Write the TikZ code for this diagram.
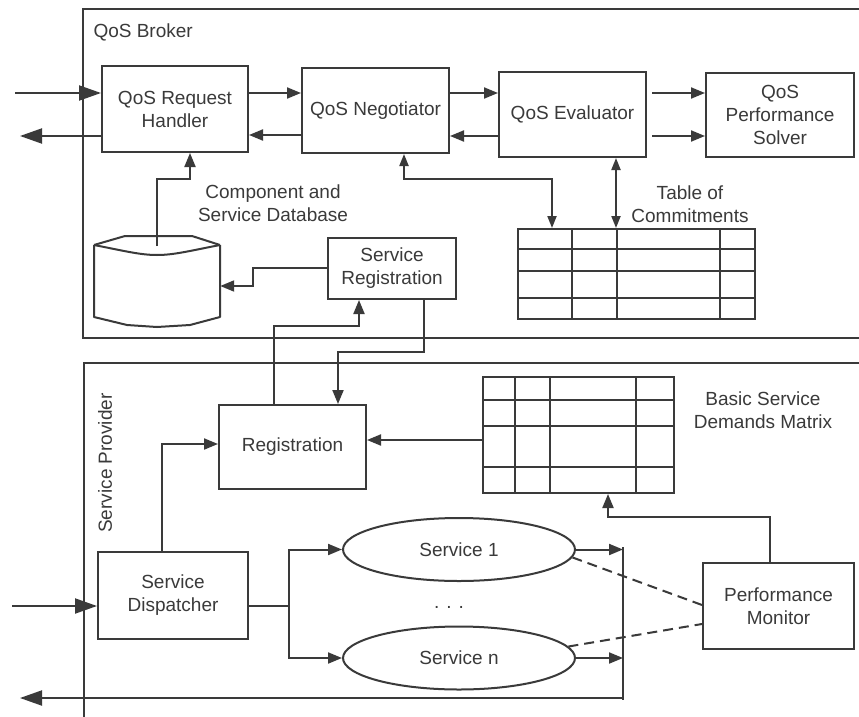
\documentclass[tikz,border=0pt]{standalone}
\usepackage{fontspec}
\setmainfont{Liberation Sans}
\usetikzlibrary{arrows.meta,shapes.geometric}
\definecolor{ink}{HTML}{3A3A3A}
\begin{document}
\begin{tikzpicture}[x=1pt,y=-1pt,
  every node/.style={font=\fontsize{19}{23}\selectfont, text=ink},
  box/.style={draw=ink, line width=2pt, rectangle, align=center, inner sep=0pt},
  svc/.style={draw=ink, line width=2pt, ellipse, minimum width=232pt,
              minimum height=63pt, inner sep=0pt},
  wire/.style={draw=ink, line width=2pt},
  arr/.style={wire, -{Triangle[length=14pt,width=11pt]}},
  bigarr/.style={wire, -{Triangle[length=22pt,width=15pt]}},
  dbl/.style={wire, {Triangle[length=12pt,width=9pt]}-{Triangle[length=12pt,width=9pt]}},
  dashline/.style={wire, dash pattern=on 10pt off 6pt},
  grid/.style={draw=ink, line width=2pt}
]
\useasboundingbox (0,0) rectangle (859,717);
\fill[white] (0,0) rectangle (859,717);

% ---------- QoS Broker ----------
\draw[wire] (859,9) -| (83,338) -- (859,338);
\node[anchor=west] (brokerlbl) at (90,32) {QoS Broker};

\node[box, minimum width=146pt, minimum height=86pt] (handler) at (175,109) {QoS Request\\Handler};
\node[box, minimum width=147pt, minimum height=85pt] (negotiator) at (375.5,110.5) {QoS Negotiator};
\node[box, minimum width=147pt, minimum height=85pt] (evaluator) at (572.5,114.5) {QoS Evaluator};
\node[box, minimum width=148pt, minimum height=84pt] (solver) at (780,115) {QoS\\Performance\\Solver};
\node[box, minimum width=128pt, minimum height=61pt] (sr) at (392,268.5) {Service\\Registration};

% component and service database (cylinder)
\node[minimum width=126pt, minimum height=91pt, inner sep=0pt] (db) at (157,281) {};
\draw[wire, line join=round] (94,245) -- (125,236) -- (192,236) -- (220,245);
\draw[wire] (94,245) .. controls (125,251) and (140,255) .. (157,255)
            .. controls (174,255) and (189,251) .. (220,245);
\draw[wire, line join=round] (94,245) -- (94,317) -- (127,325) -- (157,327)
            -- (190,325) -- (220,317) -- (220,245);
\node[align=center] (dblbl) at (273,203) {Component and\\Service Database};

% table of commitments
\node[box, minimum width=237pt, minimum height=90pt] (toc) at (636.5,274) {};
\draw[grid] (518,249) -- (755,249) (518,271) -- (755,271) (518,298) -- (755,298);
\draw[grid] (572,229) -- (572,319) (617,229) -- (617,319) (720,229) -- (720,319);
\node[align=center] (toclbl) at (690,204) {Table of\\Commitments};

% broker connectors
\coordinate (inQ) at (15,93);
\coordinate (outQ) at (20,136);
\draw[bigarr] (inQ) -- (inQ -| handler.west);
\draw[bigarr] (outQ -| handler.west) -- (outQ);
\draw[arr] (handler.east |- 0,93) -- (negotiator.west |- 0,93);
\draw[arr] (negotiator.west |- 0,135) -- (handler.east |- 0,135);
\draw[arr] (negotiator.east |- 0,93) -- (evaluator.west |- 0,93);
\draw[arr] (evaluator.west |- 0,136) -- (negotiator.east |- 0,136);
\draw[arr, shorten <=5pt] (evaluator.east |- 0,93) -- (solver.west |- 0,93);
\draw[arr, shorten <=5pt] (evaluator.east |- 0,136) -- (solver.west |- 0,136);
\draw[dbl] (evaluator.south -| 616,0) -- (toc.north -| 616,0);
\draw[dbl] (negotiator.south -| 404,0) |- (552,179) -- (toc.north -| 552,0);
\draw[arr] (db.center |- 0,246) |- (190,179) -- (handler.south -| 190,0);
\draw[arr] (sr.west |- 0,268) -| (253,286) -- (db.east |- 0,286);

% ---------- Service Provider ----------
\draw[wire] (859,363) -| (84,717);
\node[rotate=90] (provlbl) at (105,463) {Service Provider};

\node[box, minimum width=147pt, minimum height=84pt] (reg) at (292.5,447) {Registration};
\node[box, minimum width=150pt, minimum height=87pt] (disp) at (173,595.5) {Service\\Dispatcher};
\node[box, minimum width=151pt, minimum height=86pt] (pm) at (778.5,606) {Performance\\Monitor};
\node[svc] (s1) at (459,549.5) {Service 1};
\node[svc] (sn) at (459,658) {Service n};
\node (dots) at (449,607) {. . .};

% basic service demands matrix
\node[box, minimum width=191pt, minimum height=116pt] (bsdm) at (578.5,435) {};
\draw[grid] (483,400) -- (674,400) (483,426) -- (674,426) (483,467) -- (674,467);
\draw[grid] (515,377) -- (515,493) (550,377) -- (550,493) (636,377) -- (636,493);
\node[align=center] (bsdmlbl) at (763,410) {Basic Service\\Demands Matrix};

% registration links between provider and broker
\draw[arr] (reg.north -| 274,0) |- (359,326) -- (sr.south -| 359,0);
\draw[arr] (sr.south -| 424,0) |- (338,352) -- (reg.north -| 338,0);
\draw[arr] (bsdm.west |- 0,440) -- (reg.east |- 0,440);
\draw[arr] (disp.north -| 162,0) |- (reg.west |- 0,444);

% request flow through the services
\coordinate (inS) at (12,606);
\coordinate (fork) at (289,606);
\coordinate (bustop) at (623,547);
\coordinate (busbot) at (623,700);
\coordinate (outS) at (20,698);
\draw[bigarr] (inS) -- (disp.west |- inS);
\draw[wire] (disp.east |- fork) -- (fork);
\draw[arr] (fork) |- (s1.west);
\draw[arr] (fork) |- (sn.west);
\draw[arr] (s1.east) -- (s1.east -| bustop);
\draw[arr] (sn.east) -- (sn.east -| bustop);
\draw[wire] (bustop) -- (busbot);
\draw[bigarr] (busbot |- outS) -- (outS);

% monitoring
\draw[arr] (pm.north -| 770,0) |- (608,517) -- (bsdm.south -| 608,0);
\draw[dashline] (s1.-4) -- (pm.west |- 0,605);
\draw[dashline] (sn.6) -- (pm.west |- 0,624);
\end{tikzpicture}
\end{document}
